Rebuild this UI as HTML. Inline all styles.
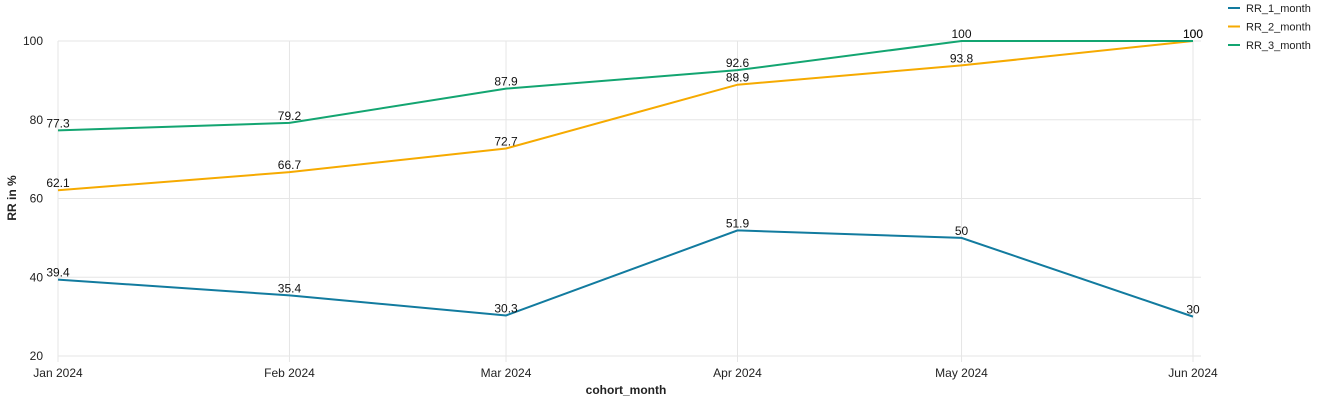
<!DOCTYPE html>
<html><head><meta charset="utf-8"><style>
body{margin:0;background:#fff;font-family:"Liberation Sans",Arial,sans-serif}
svg text{font-family:"Liberation Sans",Arial,sans-serif}
</style></head><body>
<svg id="chart" width="1326" height="400" xmlns="http://www.w3.org/2000/svg"></svg>
<script>
const categories=["2024-01-01","2024-02-01","2024-03-01","2024-04-01","2024-05-01","2024-06-01"];
const tickLabels=["Jan 2024","Feb 2024","Mar 2024","Apr 2024","May 2024","Jun 2024"];
const rr1=[39.4,35.4,30.3,51.9,50,30];
const rr2=[62.1,66.7,72.7,88.9,93.8,100];
const rr3=[77.3,79.2,87.9,92.6,100,100];
const seriesNames=["RR_1_month","RR_2_month","RR_3_month"];
const yTicks=[20,40,60,80,100];

const colors=["#127b9f","#f6aa00","#13a571"];
const svg=document.getElementById('chart');
const NS="http://www.w3.org/2000/svg";
const x0=58,x1=1193,yTop=41,yBot=356,yMin=20,yMax=100;
const t0=Date.parse(categories[0]),t1=Date.parse(categories[categories.length-1]);
function xs(c){return x0+(Date.parse(c)-t0)/(t1-t0)*(x1-x0);}
function ys(v){return yBot-(v-yMin)/(yMax-yMin)*(yBot-yTop);}
function mk(tag,attrs,parent){const e=document.createElementNS(NS,tag);for(const k in attrs)e.setAttribute(k,attrs[k]);(parent||svg).appendChild(e);return e;}

const grid=mk('g',{});


yTicks.forEach(v=>{
  const l=mk('line',{x1:x0,x2:x1+8,y1:ys(v),y2:ys(v),stroke:'#e6e6e6'},grid);
  
  
  const t=mk('text',{x:x0-15,y:ys(v)+4,'text-anchor':'end','font-size':12,fill:'#222'});
  t.textContent=v;
  
  
});
categories.forEach((c,i)=>{
  const l=mk('line',{x1:xs(c),x2:xs(c),y1:yTop,y2:yBot+6,stroke:'#e6e6e6'},grid);
  
  
  const t=mk('text',{x:xs(c),y:377,'text-anchor':'middle','font-size':12,fill:'#222'});
  t.textContent=tickLabels[i];
  
  
});
const xt=mk('text',{x:626,y:394,'text-anchor':'middle','font-size':12,'font-weight':'bold',fill:'#222'});
xt.textContent='cohort_month';


const yt=mk('text',{x:16,y:198,'text-anchor':'middle','font-size':12,'font-weight':'bold',fill:'#222',transform:'rotate(-90 16 198)'});
yt.textContent='RR in %';



[rr1,rr2,rr3].forEach((s,si)=>{
  const p=mk('polyline',{points:s.map((v,i)=>xs(categories[i])+','+ys(v)).join(' '),fill:'none',stroke:colors[si],'stroke-width':2});
  
  
  s.forEach((v,i)=>{
    const t=mk('text',{x:xs(categories[i]),y:ys(v)-3,'text-anchor':'middle','font-size':12,fill:'#111'});
    t.textContent=v;
    
    
  });
});
seriesNames.forEach((n,i)=>{
  const y=8+i*18.5;
  const g=mk('g',{});
  
  
  mk('line',{x1:1228,x2:1240,y1:y,y2:y,stroke:colors[i],'stroke-width':2},g);
  const t=mk('text',{x:1246,y:y+4,'font-size':11,fill:'#222'},g);
  t.textContent=n;
});
</script>
</body></html>
